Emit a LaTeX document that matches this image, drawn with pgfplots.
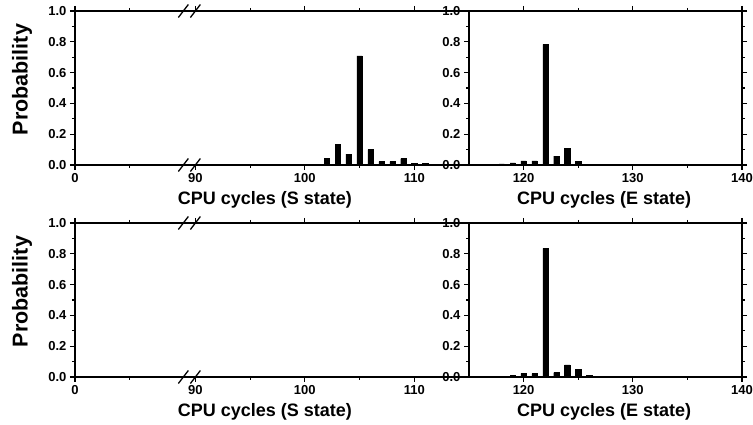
\documentclass[border=0pt]{standalone}
\usepackage{fontspec}
\setmainfont{Liberation Sans}
\usepackage{pgfplots}
\pgfplotsset{compat=1.18}

\pgfplotsset{
  panel/.style={
    scale only axis, height=154pt, ymin=0, ymax=1,
    ytick={0,0.2,0.4,0.6,0.8,1.0}, yticklabels={0.0,0.2,0.4,0.6,0.8,1.0},
    minor ytick={0.1,0.3,0.5,0.7,0.9},
    tick align=outside, major tick length=5pt, minor tick length=3pt,
    axis line style={line width=1.7pt},
    tick style={black, line width=1.2pt},
    ticklabel style={font=\fontsize{13}{13}\selectfont\bfseries},
    /pgf/number format/assume math mode=true,
    label style={font=\fontsize{18}{18}\selectfont\bfseries},
    ybar, bar width=0.48,
  },
  leftpanel/.style={
    panel, width=394pt, xmin=79, xmax=115, clip=false,
    xtick={79,90,100,110}, xticklabels={0,90,100,110},
    minor xtick={84,95,105}, ytick pos=left,
    xlabel={CPU cycles (S state)},
    xlabel style={at={(axis description cs:0.482,-0.228)}, anchor=center},
    ylabel={Probability},
    ylabel style={at={(axis description cs:-0.1345,0.555)}, anchor=center,
      font=\fontsize{21.5}{21.5}\selectfont\bfseries},
  },
  rightpanel/.style={
    panel, width=273pt, xmin=115, xmax=140,
    xtick={120,130,140}, minor xtick={125,135},
    xlabel={CPU cycles (E state)},
    xlabel style={at={(axis description cs:0.495,-0.228)}, anchor=center},
  },
}
\newcommand{\brkmark}[2]{%
  \draw[line width=1.3pt] ([shift={(-5pt,-6.5pt)}]axis cs:#1,#2) -- ([shift={(5pt,6.5pt)}]axis cs:#1,#2);}
\newcommand{\axisbreak}{\brkmark{88.9}{0}\brkmark{90.0}{0}\brkmark{88.9}{1}\brkmark{90.0}{1}}

\begin{document}
\begin{tikzpicture}
\path[use as bounding box] (0,0) rectangle (753pt,425pt);

% right panels first, the left axes lines go over their tick labels
\begin{axis}[rightpanel, at={(469pt,260pt)}, anchor=south west]
\addplot[fill=black, draw=black] coordinates {
  (118,0.008) (119,0.013) (120,0.027) (121,0.026) (122,0.783)
  (123,0.058) (124,0.108) (125,0.022)};
\end{axis}

\begin{axis}[rightpanel, at={(469pt,48pt)}, anchor=south west]
\addplot[fill=black, draw=black] coordinates {
  (119,0.012) (120,0.024) (121,0.022) (122,0.835) (123,0.028)
  (124,0.078) (125,0.048) (126,0.010)};
\end{axis}

\begin{axis}[leftpanel, at={(75pt,260pt)}, anchor=south west]
\addplot[fill=black, draw=black] coordinates {
  (99,0.004) (100,0.004) (101,0.006) (102,0.042) (103,0.132) (104,0.071)
  (105,0.708) (106,0.100) (107,0.022) (108,0.022) (109,0.041)
  (110,0.010) (111,0.009)};
\axisbreak
\end{axis}

\begin{axis}[leftpanel, at={(75pt,48pt)}, anchor=south west]
\axisbreak
\end{axis}
\end{tikzpicture}
\end{document}
